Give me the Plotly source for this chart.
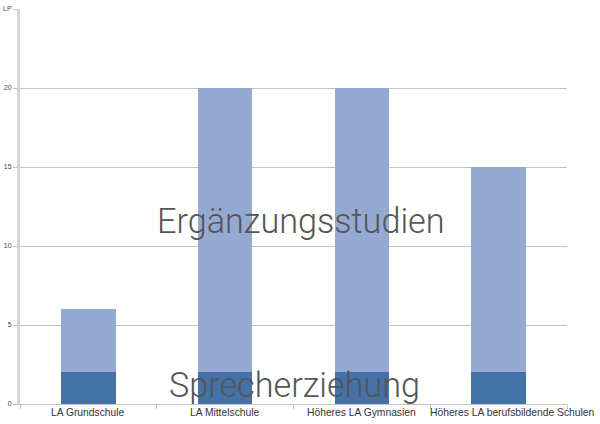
import plotly.graph_objects as go

categories = ["LA Grundschule", "LA Mittelschule", "Höheres LA Gymnasien", "Höheres LA berufsbildende Schulen"]
sprecherziehung = [2, 2, 2, 2]
ergaenzung = [4, 18, 18, 13]
y_ticks = [0, 5, 10, 15, 20, 25]
y_labels = ["0", "5", "10", "15", "20", "LP"]
label_shift = [0, 0, 0, 14]

fig = go.Figure()
fig.add_bar(x=categories, y=sprecherziehung, name="Sprecherziehung", marker_color="#4472a6", marker_line_width=0)
fig.add_bar(x=categories, y=ergaenzung, name="Ergänzungsstudien", marker_color="#95aad3", marker_line_width=0)

fig.update_layout(
    barmode="stack", bargap=0.6, showlegend=False,
    width=600, height=424, margin=dict(l=20, r=33, t=9, b=20),
    plot_bgcolor="white", paper_bgcolor="white",
    font=dict(family="Liberation Sans, Arial", color="#333"),
)
fig.update_yaxes(range=[0, 25], tickvals=y_ticks, ticktext=y_labels, tickfont=dict(size=7, color="#444"),
                 showgrid=True, gridcolor="#c4c4c4", gridwidth=1, zeroline=False, automargin=False,
                 showline=True, linecolor="#d6d6d6", linewidth=3,
                 ticks="outside", ticklen=4, tickcolor="#c4c4c4")
fig.update_xaxes(range=[-0.5, 3.5], showticklabels=False, showline=True, linecolor="#c4c4c4", linewidth=1,
                 automargin=False, ticks="outside", tickson="boundaries", ticklen=4, tickcolor="#c4c4c4")

# category labels as annotations so the long last one can sit right of its boundary tick
for cat, shift in zip(categories, label_shift):
    fig.add_annotation(text=cat, x=cat, y=0, xref="x", yref="paper", yanchor="top", yshift=-1,
                       xshift=shift, showarrow=False, font=dict(size=10.3, color="#333"))

fig.add_annotation(text="Ergänzungsstudien", x=0.514, y=11.6, xref="paper", yref="y", showarrow=False,
                   font=dict(family="Roboto", size=34.2, color="#555", weight=300))
fig.add_annotation(text="Sprecherziehung", x=0.501, y=1.2, xref="paper", yref="y", showarrow=False,
                   font=dict(family="Roboto", size=34.2, color="#555", weight=300))

fig.write_html("out.html", config={"displayModeBar": False},
               post_script="document.body.style.margin='0';")
